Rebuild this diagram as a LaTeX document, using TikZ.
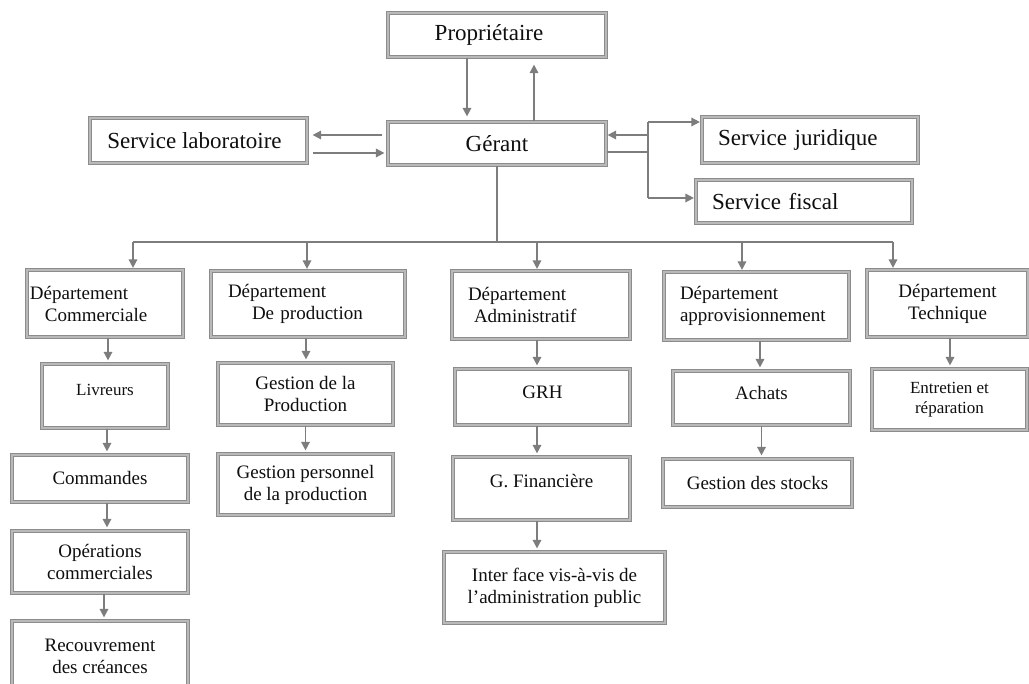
\documentclass[tikz,border=0pt]{standalone}
\usepackage{fontspec}
\setmainfont{Liberation Serif}
\usetikzlibrary{arrows.meta,calc}

\definecolor{framegray}{RGB}{140,140,140}
\definecolor{framelight}{RGB}{185,185,185}
\definecolor{linkgray}{RGB}{125,125,125}
\definecolor{inkdark}{RGB}{15,15,15}

\newcommand\topfont{\fontsize{23}{27}\selectfont}
\newcommand\deptfont{\fontsize{19}{22}\selectfont}
\newcommand\smallboxfont{\fontsize{17}{20}\selectfont}

% vertical link from the bottom of one box to the top of the box below it
\newcommand\vlink[3]{%
  \coordinate (vtmp) at ([xshift=#3]#1.south);
  \draw[arr] (vtmp) -- (vtmp |- #2.north);}

\begin{document}
\begin{tikzpicture}[x=1pt,y=-1pt,
  box/.style={draw=framegray, double=framelight, line width=1.2pt,
    double distance=1.1pt, inner sep=0pt, text=inkdark, align=center},
  link/.style={draw=linkgray, line width=1.6pt},
  arr/.style={link, -{Triangle[length=8.5pt,width=8.5pt]}, shorten >=3pt}]

\fill[white] (0,0) rectangle (1029,684);
\useasboundingbox (0,0) rectangle (1029,684);

% top level
\node[box, font=\topfont, minimum width=218, minimum height=44] (prop) at (497,35) {\hspace*{-16pt}Propriétaire};
\node[box, font=\topfont, minimum width=218, minimum height=43] (ger) at (497,143.5) {Gérant};
\node[box, font=\topfont, minimum width=217, minimum height=45] (lab) at (198.5,140.5) {\hspace*{-8pt}Service laboratoire};
\node[box, font=\topfont, minimum width=216, minimum height=46, text width=184, inner xsep=16pt, align=left] (jur) at (810,140) {Service juridique};
\node[box, font=\topfont, minimum width=216, minimum height=43, text width=184, inner xsep=16pt, align=left] (fis) at (804,201.5) {Service fiscal};

% departments
\node[box, font=\deptfont, minimum width=156, minimum height=67, text width=156, align=left] (com) at (105,303.5)
  {\hspace*{3pt}Département\\\hspace*{18pt}Commerciale};
\node[box, font=\deptfont, minimum width=194, minimum height=66, text width=194, align=left] (prod) at (308,304)
  {\hspace*{17pt}Département\\\hspace*{41pt}De production};
\node[box, font=\deptfont, minimum width=178, minimum height=68, text width=178, align=left] (adm) at (541,305)
  {\hspace*{16pt}Département\\\hspace*{22pt}Administratif};
\node[box, font=\deptfont, minimum width=185, minimum height=68, text width=185, align=left] (app) at (756.5,306)
  {\hspace*{16pt}Département\\\hspace*{16pt}approvisionnement};
\node[box, font=\deptfont, minimum width=161, minimum height=67, text width=161, align=center] (tec) at (947.5,303.5)
  {Département\\Technique};

% second level
\node[box, font=\smallboxfont, minimum width=126, minimum height=64] (liv) at (105,396) {\raisebox{12pt}{Livreurs}};
\node[box, font=\deptfont, minimum width=175, minimum height=62] (gp) at (305.5,394) {Gestion de la\\Production};
\node[box, font=\deptfont, minimum width=175, minimum height=56] (grh) at (542.5,397) {\raisebox{10pt}{GRH}};
\node[box, font=\deptfont, minimum width=177, minimum height=54] (ach) at (761.5,398) {\raisebox{10pt}{Achats}};
\node[box, font=\smallboxfont, minimum width=155, minimum height=61] (ent) at (949.5,399.5) {Entretien et\\réparation};

% third level and below
\node[box, font=\deptfont, minimum width=176, minimum height=47] (cmd) at (100,478.5) {Commandes};
\node[box, font=\deptfont, minimum width=175, minimum height=61] (gpp) at (305.5,484.5) {Gestion personnel\\de la production};
\node[box, font=\deptfont, minimum width=177, minimum height=63] (fin) at (541.5,488.5) {\raisebox{16pt}{G. Financière}};
\node[box, font=\deptfont, minimum width=189, minimum height=48] (stk) at (757.5,483) {Gestion des stocks};
\node[box, font=\deptfont, minimum width=176, minimum height=62] (ops) at (100,562) {Opérations\\commerciales};
\node[box, font=\deptfont, minimum width=221, minimum height=71] (iface) at (554.5,587.5) {Inter face vis-à-vis de\\l’administration public};
\node[box, font=\deptfont, minimum width=176, minimum height=70] (rec) at (100,656) {Recouvrement\\des créances};

% owner <-> manager
\coordinate (pd) at ([xshift=-30pt]prop.south);
\draw[arr, shorten >=5pt] (pd) -- (pd |- ger.north);
\coordinate (pu) at ([xshift=37pt]ger.north);
\draw[arr, shorten >=7pt] (pu) -- (pu |- prop.south);

% manager <-> laboratory
\coordinate (gl1) at ([yshift=8.5pt]ger.west);
\draw[arr, shorten <=5pt, shorten >=5pt] (gl1) -- (gl1 -| lab.east);
\coordinate (gl2) at ([yshift=-9.5pt]ger.west);
\draw[arr, shorten <=5pt] (gl2 -| lab.east) -- (gl2);

% manager <-> legal and tax services
\coordinate (rj) at (648,122);
\coordinate (rf) at (648,198);
\coordinate (gr1) at ([yshift=8.5pt]ger.east);
\coordinate (gr2) at ([yshift=-8.5pt]ger.east);
\draw[link] (gr2) -- (gr2 -| rj);
\draw[link] (rj) -- (rf);
\draw[arr, shorten >=1.5pt] (rj) -- (rj -| jur.west);
\draw[arr, shorten >=1.5pt] (rf) -- (rf -| fis.west);
\draw[arr, shorten >=1pt] (gr1 -| rj) -- (gr1);

% distribution bus to the departments
\coordinate (bus) at (497,242);
\draw[link] (ger.south) -- (bus);
\coordinate (bcom) at (133,242);
\coordinate (bprod) at (307,242);
\coordinate (badm) at (537,242);
\coordinate (bapp) at (742,242);
\coordinate (btec) at (893,242);
\draw[link] (bcom) -- (btec);
\draw[arr, shorten >=1.5pt] (bcom) -- (bcom |- com.north);
\draw[arr, shorten >=1.5pt] (bprod) -- (bprod |- prod.north);
\draw[arr, shorten >=1.5pt] (badm) -- (badm |- adm.north);
\draw[arr, shorten >=1.5pt] (bapp) -- (bapp |- app.north);
\draw[arr, shorten >=1.5pt] (btec) -- (btec |- tec.north);

% links inside each department
\vlink{com}{liv}{3pt}
\vlink{liv}{cmd}{2pt}
\vlink{cmd}{ops}{7pt}
\vlink{ops}{rec}{4pt}
\vlink{prod}{gp}{-2pt}
\vlink{gp}{gpp}{0pt}
\vlink{adm}{grh}{-4pt}
\vlink{grh}{fin}{-5.5pt}
\vlink{fin}{iface}{-4.5pt}
\vlink{app}{ach}{3.5pt}
\vlink{ach}{stk}{0pt}
\vlink{tec}{ent}{2.5pt}

\end{tikzpicture}
\end{document}
